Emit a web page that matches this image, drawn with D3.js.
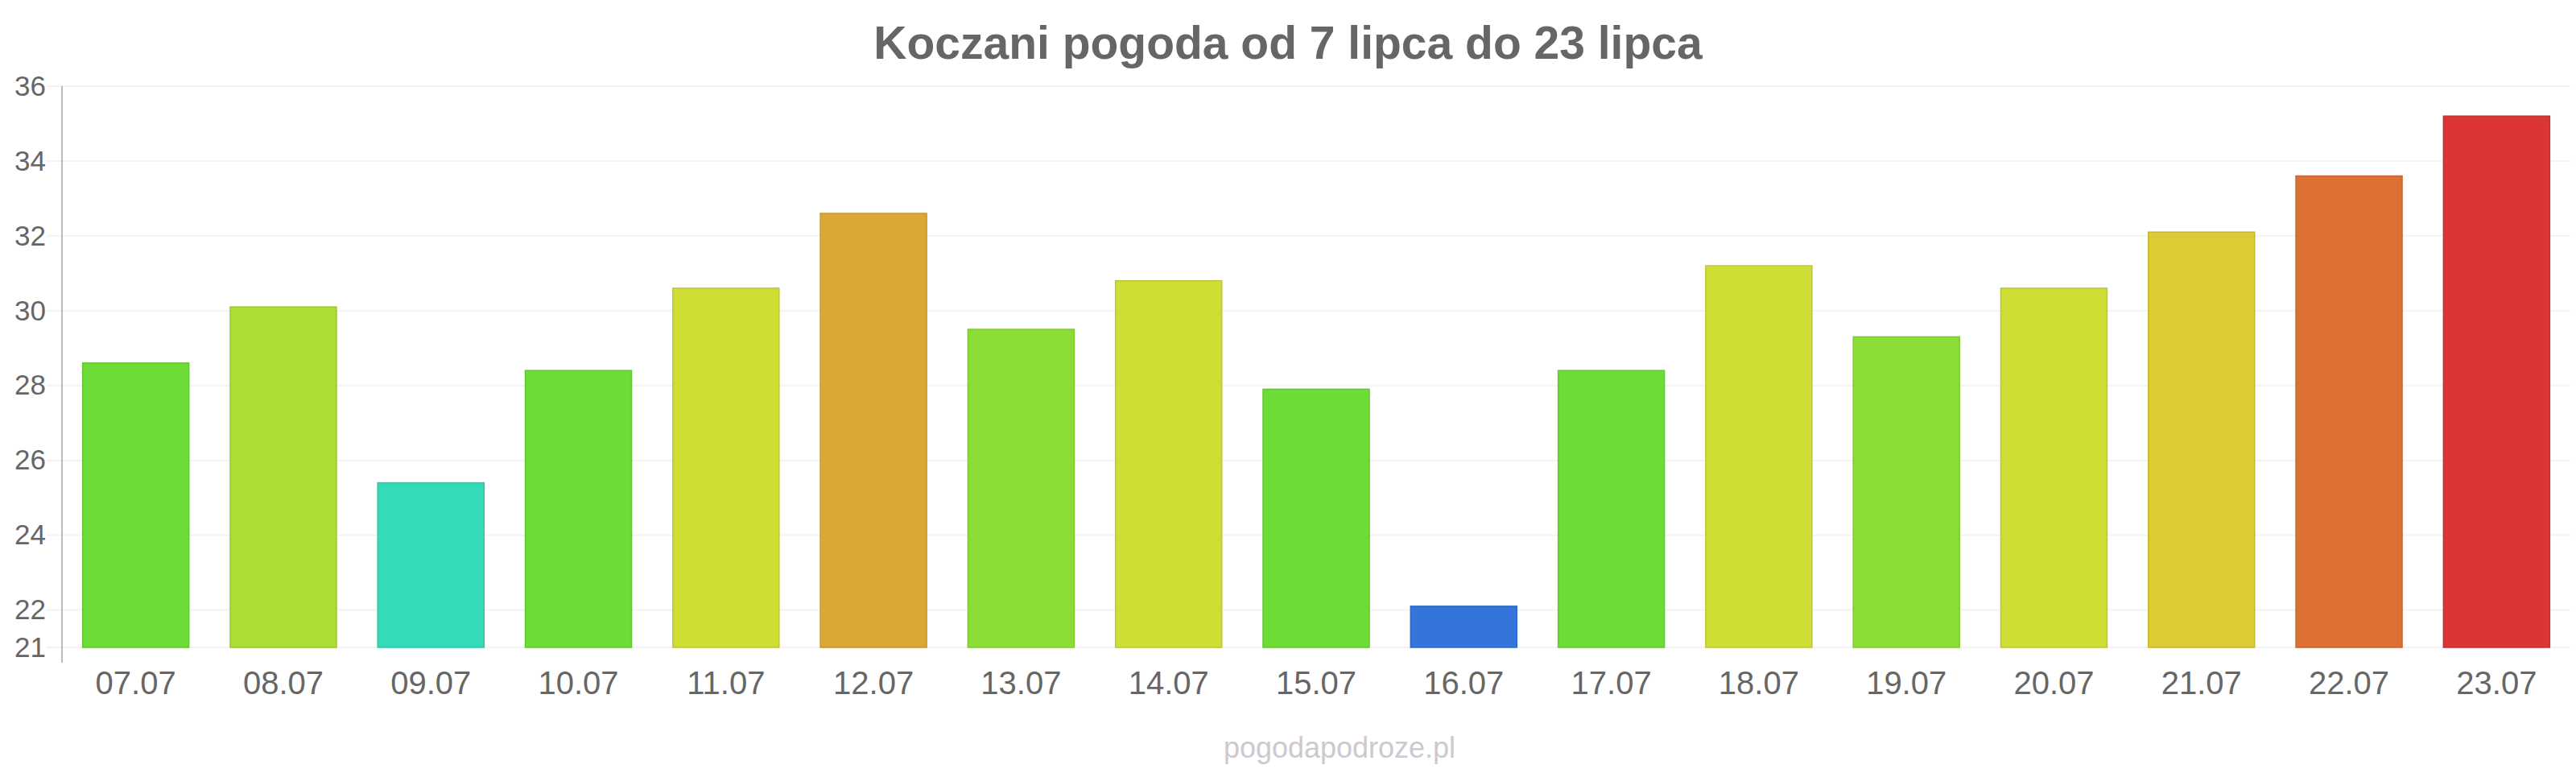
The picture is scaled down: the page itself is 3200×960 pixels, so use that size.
<!DOCTYPE html>
<html>
<head>
<meta charset="utf-8">
<script src="https://cdn.jsdelivr.net/npm/d3@7"></script>
<style>
  body { margin: 0; background: #fff; }
  svg { display: block; font-family: "Liberation Sans", Arial, sans-serif; }
</style>
</head>
<body>
<svg></svg>
<script>
let days = ["07.07", "08.07", "09.07", "10.07", "11.07", "12.07", "13.07", "14.07", "15.07",
  "16.07", "17.07", "18.07", "19.07", "20.07", "21.07", "22.07", "23.07"];
let temps = [28.6, 30.1, 25.4, 28.4, 30.6, 32.6, 29.5, 30.8, 27.9,
  22.1, 28.4, 31.2, 29.3, 30.6, 32.1, 33.6, 35.2];
let barColors = ["#6ddc37", "#addd35", "#35dbb7", "#6ddc37", "#d0dd35", "#dca835", "#8ddd37", "#d0dd35", "#6ddc37",
  "#3475db", "#6ddc37", "#d0dd35", "#8ddd37", "#d0dd35", "#dccb35", "#dc7035", "#db3535"];
let yTicks = [21, 22, 24, 26, 28, 30, 32, 34, 36];

let width = 3200;
let height = 960;
let plotLeft = 77;
let plotRight = 3193;
let plotTop = 107;
let plotBottom = 804;

let svg = d3.select("svg").attr("width", width).attr("height", height);

let xScale = d3.scaleBand()
  .domain(days)
  .range([plotLeft, plotRight])
  .paddingInner(0.28)
  .paddingOuter(0.14);

let yScale = d3.scaleLinear()
  .domain([21, 36])
  .range([plotBottom, plotTop]);

// grid lines
svg.append("g")
  .selectAll("line")
  .data(yTicks)
  .enter()
  .append("line")
  .attr("x1", 58)
  .attr("x2", plotRight)
  .attr("y1", (d) => yScale(d))
  .attr("y2", (d) => yScale(d))
  .attr("stroke", "#f3f3f3")
  .attr("stroke-width", 2);

// y axis
let yAxis = d3.axisLeft(yScale).tickValues(yTicks).tickSize(0).tickPadding(20);
let gy = svg.append("g")
  .attr("transform", `translate(${plotLeft}, 0)`)
  .call(yAxis);
gy.select(".domain").remove();
gy.selectAll("text")
  .attr("fill", "#666")
  .style("font-size", "35px")
  .style("font-family", "'Liberation Sans', Arial, sans-serif");

svg.append("line")
  .attr("x1", plotLeft).attr("x2", plotLeft)
  .attr("y1", plotTop).attr("y2", plotBottom + 19)
  .attr("stroke", "#bbb")
  .attr("stroke-width", 2);

// bars
svg.append("g")
  .selectAll("rect")
  .data(temps)
  .enter()
  .append("rect")
  .attr("x", (d, i) => xScale(days[i]))
  .attr("y", (d) => yScale(d))
  .attr("width", xScale.bandwidth())
  .attr("height", (d) => plotBottom - yScale(d))
  .attr("fill", (d, i) => barColors[i])
  .attr("stroke", (d, i) => d3.color(barColors[i]).darker(0.3))
  .attr("stroke-width", 1.5);

// x axis
let xAxis = d3.axisBottom(xScale).tickSize(0).tickPadding(30);
let gx = svg.append("g")
  .attr("transform", `translate(0, ${plotBottom})`)
  .call(xAxis);
gx.select(".domain").remove();
gx.selectAll("text")
  .attr("fill", "#666")
  .style("font-size", "40px")
  .style("font-family", "'Liberation Sans', Arial, sans-serif");

// title
svg.append("text")
  .attr("x", 1600)
  .attr("y", 73)
  .attr("text-anchor", "middle")
  .attr("fill", "#666")
  .style("font-size", "57px")
  .style("font-weight", "bold")
  .text("Koczani pogoda od 7 lipca do 23 lipca");

// watermark
svg.append("text")
  .attr("x", 1664)
  .attr("y", 941)
  .attr("text-anchor", "middle")
  .attr("fill", "#cacacf")
  .style("font-size", "36px")
  .text("pogodapodroze.pl");
</script>
</body>
</html>
